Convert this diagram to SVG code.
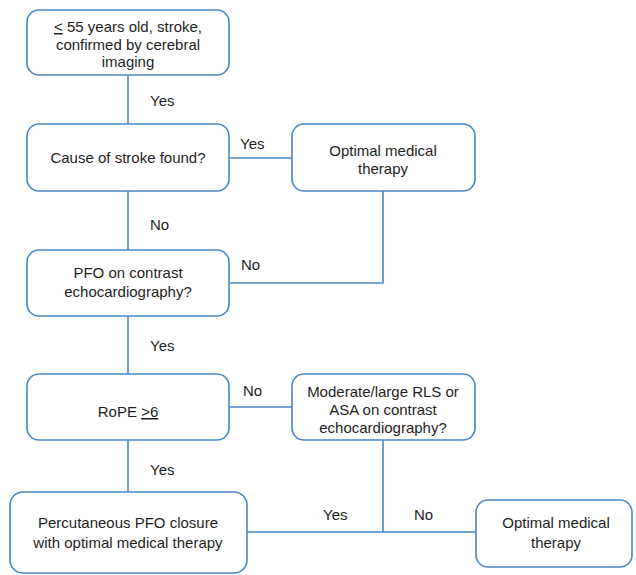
<svg xmlns="http://www.w3.org/2000/svg" width="636" height="575" viewBox="0 0 636 575">
<style>
.box{fill:#fff;stroke:#4a86c6;stroke-width:1.6}
.ln{fill:none;stroke:#4a86c6;stroke-width:1.6}
text{font-family:"Liberation Sans",Arial,sans-serif;font-size:15px;fill:#1e1e1e}
.c{text-anchor:middle}
.u{text-decoration:underline}
</style>
<rect width="636" height="575" fill="#fff"/>
<g id="connectors">
<line class="ln" x1="128" y1="75" x2="128" y2="124"/>
<line class="ln" x1="229" y1="158" x2="292" y2="158"/>
<line class="ln" x1="128" y1="191" x2="128" y2="250"/>
<polyline class="ln" points="383,191 383,283 229,283"/>
<line class="ln" x1="128" y1="316" x2="128" y2="374"/>
<line class="ln" x1="229" y1="407" x2="292" y2="407"/>
<line class="ln" x1="128" y1="440" x2="128" y2="492"/>
<line class="ln" x1="383" y1="440" x2="383" y2="532"/>
<line class="ln" x1="247" y1="532" x2="476" y2="532"/>
<text x="150" y="106">Yes</text>
<text x="240" y="149">Yes</text>
<text x="150" y="230">No</text>
<text x="241" y="270">No</text>
<text x="150" y="351">Yes</text>
<text x="243" y="396">No</text>
<text x="150" y="475">Yes</text>
<text x="323" y="520">Yes</text>
<text x="414" y="520">No</text>
</g>
<g id="n1">
<rect class="box" x="27" y="10" width="202" height="65" rx="12"/>
<text class="c" x="128" y="32"><tspan class="u">&lt;</tspan> 55 years old, stroke,</text>
<text class="c" x="128" y="50">confirmed by cerebral</text>
<text class="c" x="128" y="67">imaging</text>
</g>
<g id="n2">
<rect class="box" x="27" y="124" width="202" height="67" rx="12"/>
<text class="c" x="128" y="163">Cause of stroke found?</text>
</g>
<g id="n3">
<rect class="box" x="292" y="124" width="183" height="67" rx="12"/>
<text class="c" x="383" y="156">Optimal medical</text>
<text class="c" x="383" y="174">therapy</text>
</g>
<g id="n4">
<rect class="box" x="27" y="250" width="202" height="66" rx="12"/>
<text class="c" x="128" y="278">PFO on contrast</text>
<text class="c" x="128" y="297">echocardiography?</text>
</g>
<g id="n5">
<rect class="box" x="27" y="374" width="202" height="66" rx="12"/>
<text class="c" x="128" y="417">RoPE <tspan class="u">&gt;6</tspan></text>
</g>
<g id="n6">
<rect class="box" x="292" y="374" width="183" height="66" rx="12"/>
<text class="c" x="383" y="397">Moderate/large RLS or</text>
<text class="c" x="383" y="415">ASA on contrast</text>
<text class="c" x="383" y="433">echocardiography?</text>
</g>
<g id="n7">
<rect class="box" x="10" y="492" width="237" height="81" rx="13"/>
<text class="c" x="128" y="528">Percutaneous PFO closure</text>
<text class="c" x="128" y="548">with optimal medical therapy</text>
</g>
<g id="n8">
<rect class="box" x="476" y="500" width="156" height="67" rx="12"/>
<text class="c" x="556" y="528">Optimal medical</text>
<text class="c" x="556" y="548">therapy</text>
</g>
</svg>
